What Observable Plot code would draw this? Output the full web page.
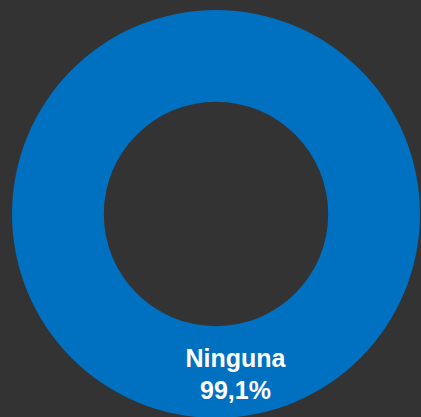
<!DOCTYPE html>
<html>
<head>
<meta charset="utf-8">
<script src="https://cdn.jsdelivr.net/npm/d3@7"></script>
<script src="https://cdn.jsdelivr.net/npm/@observablehq/plot@0.6"></script>
<style>
  html, body { margin: 0; padding: 0; background: #333333; }
  #chart svg { display: block; }
</style>
</head>
<body>
<div id="chart"></div>
<script>
// Data
const categories = ["Ninguna"];
const values = [99.1];
const valueLabels = ["99,1%"];
const colors = ["#0070C0"];

const innerRatio = 0.55;

const pie = d3.pie().sort(null).value(d => d.value);
const table = categories.map((c, i) => ({category: c, value: values[i], label: valueLabels[i], color: colors[i]}));
const arcs = pie(table);
const unitArc = d3.arc().innerRadius(innerRatio).outerRadius(1);
const labels = arcs.map(a => {
  const [cx, cy] = unitArc.centroid(a);
  return {x: cx, y: cy, text: a.data.category + "\n" + a.data.label};
});

const arcMark = (index, scales, values, dimensions) => {
  const x0 = scales.x(0), y0 = scales.y(0);
  const R = Math.abs(scales.x(1) - scales.x(0));
  const arcGen = d3.arc().innerRadius(R * innerRatio).outerRadius(R);
  const g = d3.create("svg:g").attr("transform", `translate(${x0},${y0})`);
  g.selectAll("path").data(arcs).join("path")
    .attr("d", arcGen)
    .attr("fill", d => d.data.color);
  return g.node();
};

const chart = Plot.plot({
  width: 421,
  height: 417,
  margin: 0,
  style: {background: "#333333", overflow: "visible"},
  x: {domain: [-1, 1], range: [12, 420], axis: null},
  y: {domain: [-1, 1], range: [10, 418], axis: null},
  marks: [
    arcMark,
    Plot.text(labels, {
      x: "x", y: "y", text: "text",
      dx: 19,
      fill: "white",
      fontSize: 25,
      fontWeight: "bold",
      fontFamily: "Liberation Sans, Arial, sans-serif",
      textAnchor: "middle",
      lineAnchor: "middle",
      lineHeight: 1.28
    })
  ]
});
document.getElementById("chart").appendChild(chart);
</script>
</body>
</html>
